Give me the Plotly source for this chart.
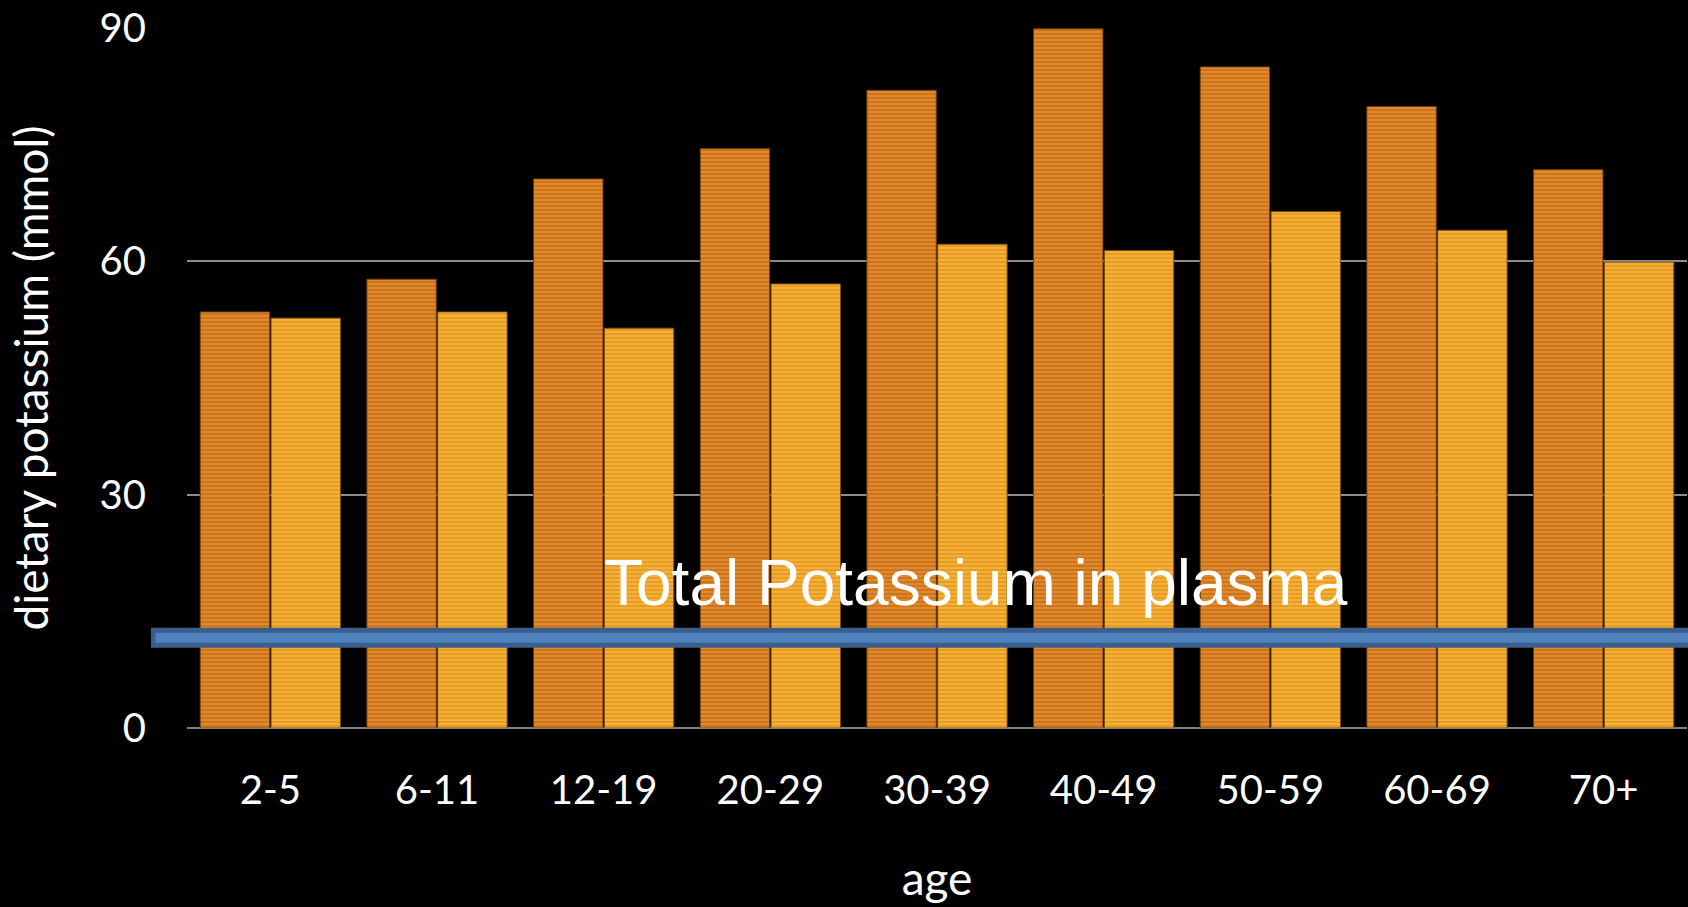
import plotly.graph_objects as go

ages = ["2-5", "6-11", "12-19", "20-29", "30-39", "40-49", "50-59", "60-69", "70+"]
series_a = [53.5, 57.7, 70.6, 74.5, 82.0, 89.9, 85.0, 79.9, 71.8]
series_b = [52.7, 53.5, 51.4, 57.1, 62.2, 61.4, 66.4, 64.0, 59.9]
y_ticks = [0, 30, 60, 90]
plasma_level = 11.6
plasma_label = "Total Potassium in plasma"

fig = go.Figure()
fig.add_trace(go.Bar(
    x=ages, y=series_a, name="A",
    marker=dict(color="#E0872A",
                line=dict(color="rgba(110,60,10,0.9)", width=1),
                pattern=dict(shape="-", size=4, solidity=0.4,
                             fgcolor="#C6701A", bgcolor="#E2892B", fillmode="replace")),
))
fig.add_trace(go.Bar(
    x=ages, y=series_b, name="B",
    marker=dict(color="#F6AE33",
                line=dict(color="rgba(120,75,10,0.9)", width=1),
                pattern=dict(shape="-", size=4, solidity=0.4,
                             fgcolor="#E09A24", bgcolor="#F7B035", fillmode="replace")),
))

# plasma reference line (outer dark border + inner lighter band)
fig.add_shape(type="line", xref="paper", yref="y", x0=-0.024, x1=1.01,
              y0=plasma_level, y1=plasma_level,
              line=dict(color="#3B5F8C", width=20), layer="above")
fig.add_shape(type="line", xref="paper", yref="y", x0=-0.021, x1=1.01,
              y0=plasma_level, y1=plasma_level,
              line=dict(color="#4F81BD", width=10), layer="above")

fig.add_annotation(text=plasma_label, xref="paper", yref="y",
                   x=0.2765, y=plasma_level + 2.2, xanchor="left", yanchor="bottom",
                   showarrow=False,
                   font=dict(family="Liberation Sans, Arial", size=64, color="white"))

fig.update_layout(
    width=1688, height=907,
    paper_bgcolor="black", plot_bgcolor="black",
    margin=dict(l=187, r=1, t=28, b=179),
    barmode="group", bargap=0.15, bargroupgap=0.02,
    showlegend=False,
    font=dict(family="Lato, Open Sans, sans-serif", color="white"),
    xaxis=dict(
        title=dict(text="age", font=dict(size=46, color="white"), standoff=50),
        tickfont=dict(size=40, color="white"),
        showgrid=False, zeroline=False, showline=False,
        ticks="", ticklabelstandoff=35,
    ),
    yaxis=dict(
        title=dict(text="dietary potassium (mmol)", font=dict(size=46, color="white"), standoff=36),
        tickfont=dict(size=40, color="white"),
        range=[0, 90], tickvals=y_ticks,
        showgrid=True, gridcolor="#8C8C8C", gridwidth=2,
        zeroline=True, zerolinecolor="#808080", zerolinewidth=2,
        showline=False, ticks="", ticklabelstandoff=40,
    ),
)

fig.write_html("out.html", config={"displayModeBar": False},
               post_script="document.body.style.margin='0';document.body.style.background='black';")
